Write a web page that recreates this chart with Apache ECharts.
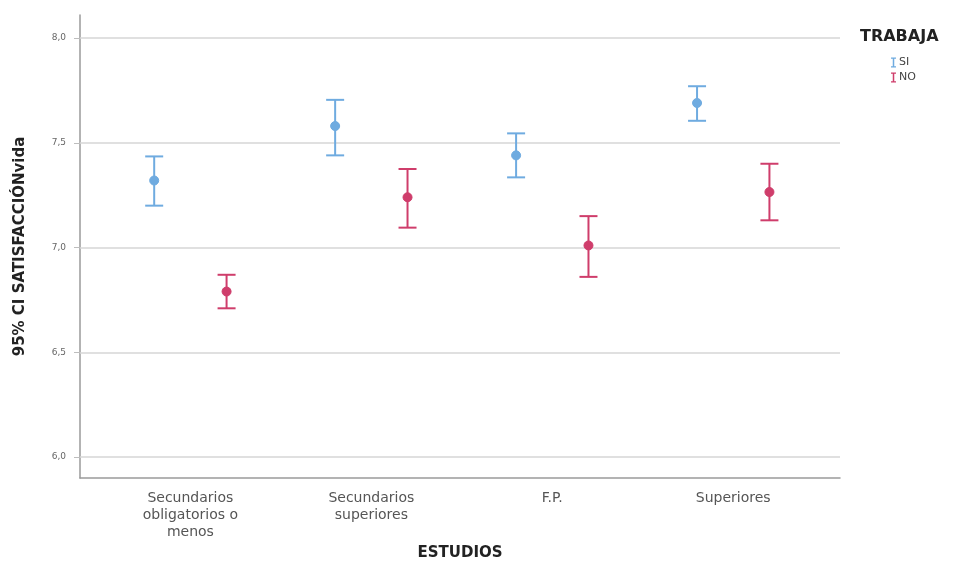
<!DOCTYPE html>
<html>
<head>
<meta charset="utf-8">
<script src="https://cdn.jsdelivr.net/npm/echarts@6/dist/echarts.min.js"></script>
<style>
html,body{margin:0;padding:0;background:#fff;}
#chart{width:958px;height:583px;}
</style>
</head>
<body>
<div id="chart"></div>
<script>
// ---- data ----
var categories = ['Secundarios\nobligatorios o\nmenos', 'Secundarios\nsuperiores', 'F.P.', 'Superiores'];
var seriesNames = ['SI', 'NO'];
var siMean = [7.32, 7.58, 7.44, 7.69];
var siLow  = [7.20, 7.44, 7.335, 7.605];
var siHigh = [7.435, 7.705, 7.545, 7.77];
var noMean = [6.79, 7.24, 7.01, 7.265];
var noLow  = [6.71, 7.095, 6.86, 7.13];
var noHigh = [6.87, 7.375, 7.15, 7.40];
var yTicks = [6.0, 6.5, 7.0, 7.5, 8.0];

// ---- styling ----
var colors = ['#6fabe0', '#cf3d6b'];
var dodge = [-0.2, 0.2];

function build(mean, low, high) {
  return mean.map(function (m, i) { return [i, low[i], m, high[i]]; });
}

function renderer(off, color) {
  return function (params, api) {
    var x = api.value(0) + off;
    var lo = api.coord([x, api.value(1)]);
    var mid = api.coord([x, api.value(2)]);
    var hi = api.coord([x, api.value(3)]);
    var cap = 9;
    var ls = { stroke: color, lineWidth: 2 };
    return {
      type: 'group',
      children: [
        { type: 'line', shape: { x1: lo[0], y1: lo[1], x2: hi[0], y2: hi[1] }, style: ls },
        { type: 'line', shape: { x1: hi[0] - cap, y1: hi[1], x2: hi[0] + cap, y2: hi[1] }, style: ls },
        { type: 'line', shape: { x1: lo[0] - cap, y1: lo[1], x2: lo[0] + cap, y2: lo[1] }, style: ls },
        { type: 'circle', shape: { cx: mid[0], cy: mid[1], r: 4.5 }, style: { fill: color, stroke: color, lineWidth: 1 } }
      ]
    };
  };
}

var ibeam = 'path://M0,0H10V2.5H6.5V17.5H10V20H0V17.5H3.5V2.5H0Z';
var chart = echarts.init(document.getElementById('chart'), null, { renderer: 'canvas' });
var FONT = 'DejaVu Sans, Verdana, sans-serif';

chart.setOption({
  animation: false,
  backgroundColor: '#ffffff',
  title: {
    text: 'TRABAJA', left: 855, top: 24,
    textStyle: { fontFamily: FONT, fontSize: 16, fontWeight: 'bold', color: '#222' }
  },
  legend: {
    orient: 'vertical', left: 886, top: 52, itemGap: 4,
    itemWidth: 5, itemHeight: 10,
    textStyle: { fontFamily: FONT, fontSize: 11, color: '#444', padding: [0, 0, 0, -2] },
    data: [
      { name: seriesNames[0], icon: ibeam, itemStyle: { color: colors[0] } },
      { name: seriesNames[1], icon: ibeam, itemStyle: { color: colors[1] } }
    ]
  },
  grid: { left: 80, right: 118, top: 15, bottom: 105, containLabel: false },
  xAxis: {
    type: 'value', min: -0.61, max: 3.59,
    name: 'ESTUDIOS', nameLocation: 'middle', nameGap: 59,
    nameTextStyle: { fontFamily: FONT, fontSize: 15, fontWeight: 'bold', color: '#222' },
    axisLine: { show: true, onZero: false, lineStyle: { color: '#9a9a9a', width: 1.5 } },
    axisTick: { show: false, customValues: [0, 1, 2, 3] },
    splitLine: { show: false },
    axisLabel: {
      customValues: [0, 1, 2, 3], margin: 12,
      fontFamily: FONT, fontSize: 14, color: '#555', lineHeight: 17, align: 'center',
      formatter: function (v) { return categories[Math.round(v)]; }
    }
  },
  yAxis: {
    type: 'value', min: 5.9, max: 8.11,
    name: '95% CI SATISFACCIÓNvida', nameLocation: 'middle', nameGap: 52,
    nameTextStyle: { fontFamily: FONT, fontSize: 15, fontWeight: 'bold', color: '#222' },
    axisLine: { show: true, onZero: false, lineStyle: { color: '#9a9a9a', width: 1.5 } },
    axisTick: { show: true, customValues: yTicks, length: 6, lineStyle: { color: '#bdbdbd', width: 1 } },
    splitLine: { show: false },
    axisLabel: {
      customValues: yTicks, margin: 14,
      fontFamily: FONT, fontSize: 9, color: '#666',
      formatter: function (v) { return v.toFixed(1).replace('.', ','); }
    }
  },
  series: [
    {
      name: seriesNames[0], type: 'custom', color: colors[0],
      itemStyle: { color: colors[0] },
      renderItem: renderer(dodge[0], colors[0]),
      encode: { x: 0, y: [1, 2, 3] },
      data: build(siMean, siLow, siHigh),
      z: 3,
      markLine: {
        silent: true, symbol: ['none', 'none'], label: { show: false },
        lineStyle: { color: '#d6d6d6', width: 1.5, type: 'solid' },
        data: yTicks.map(function (t) { return { yAxis: t }; }),
        z: 1
      }
    },
    {
      name: seriesNames[1], type: 'custom', color: colors[1],
      itemStyle: { color: colors[1] },
      renderItem: renderer(dodge[1], colors[1]),
      encode: { x: 0, y: [1, 2, 3] },
      data: build(noMean, noLow, noHigh),
      z: 3
    }
  ]
});
</script>
</body>
</html>
